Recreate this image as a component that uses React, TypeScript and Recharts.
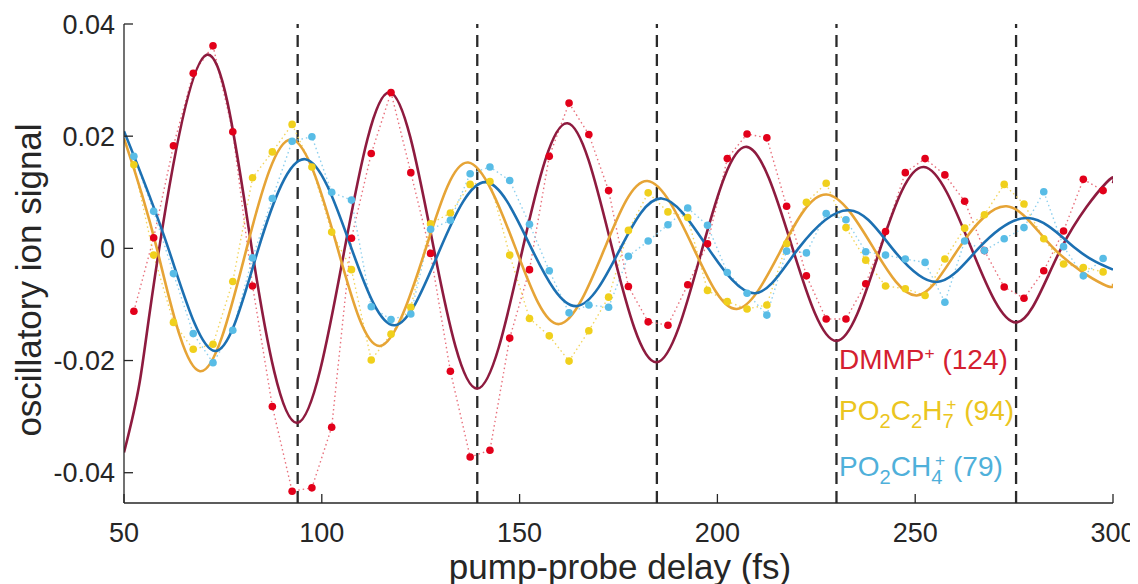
import React from "react"
import { ComposedChart, Line, XAxis, YAxis, ReferenceLine } from "recharts"

// pump-probe delays of the measured points (fs)
const sampleDelays = [
  52.5, 57.5, 62.5, 67.5, 72.5, 77.5, 82.5, 87.5, 92.5, 97.5,
  102.5, 107.5, 112.5, 117.5, 122.5, 127.5, 132.5, 137.5, 142.5, 147.5,
  152.5, 157.5, 162.5, 167.5, 172.5, 177.5, 182.5, 187.5, 192.5, 197.5,
  202.5, 207.5, 212.5, 217.5, 222.5, 227.5, 232.5, 237.5, 242.5, 247.5,
  252.5, 257.5, 262.5, 267.5, 272.5, 277.5, 282.5, 287.5, 292.5, 297.5,
]

// measured oscillatory signal, DMMP+ (124)
const dmmpSignal = [
  -0.0112, 0.0019, 0.0183, 0.0312, 0.0361, 0.0208, -0.0067, -0.0282, -0.0433, -0.0427,
  -0.0319, 0.0018, 0.0169, 0.0278, 0.0135, -0.0009, -0.0219, -0.0372, -0.036, -0.016,
  -0.0038, 0.0164, 0.0259, 0.0203, 0.0103, -0.0068, -0.0131, -0.0137, -0.0065, 0.0008,
  0.016, 0.0204, 0.0197, 0.0075, -0.0049, -0.0126, -0.0126, -0.0063, 0.003, 0.0135,
  0.016, 0.0131, 0.0084, -0.0004, -0.0069, -0.0089, -0.004, 0.0031, 0.0123, 0.0103,
]

// PO2C2H7+ (94)
const c2h7Signal = [
  0.0149, -0.0012, -0.0132, -0.018, -0.0171, -0.0059, 0.0126, 0.0172, 0.0221, 0.0145,
  0.0029, -0.0038, -0.0199, -0.0153, -0.0105, 0.0044, 0.0063, 0.0114, 0.0119, -0.0012,
  -0.0125, -0.0156, -0.0201, -0.0147, -0.0087, 0.0032, 0.0099, 0.0065, 0.0055, -0.0075,
  -0.0095, -0.0108, -0.0101, 0.0008, 0.0082, 0.0116, 0.0037, -0.0021, -0.0067, -0.0072,
  -0.0084, -0.0019, 0.0036, 0.006, 0.0114, 0.0079, 0.0017, -0.0028, -0.0034, -0.0042,
]

// PO2CH4+ (79)
const ch4Signal = [
  0.0164, 0.0066, -0.0045, -0.0152, -0.0204, -0.0146, -0.0017, 0.0089, 0.0191, 0.0199,
  0.01, 0.0086, -0.0104, -0.0127, -0.0117, 0.0034, 0.005, 0.0133, 0.0145, 0.0121,
  0.0043, -0.004, -0.0115, -0.0101, -0.0105, -0.0014, 0.0013, 0.0042, 0.0072, 0.0041,
  -0.0043, -0.008, -0.0119, -0.0005, -0.0008, 0.0062, 0.0051, -0.0006, -0.0012, -0.0019,
  -0.0025, -0.0096, 0.0013, -0.0004, 0.0017, 0.0037, 0.0101, 0.0003, -0.0049, -0.0018,
]

// fitted curves, read at their extrema and zero crossings
const dmmpFitDelays = [50, 54, 58.9, 70.9, 82.3, 93.9, 105.8, 117.2, 128.3, 139.4, 150.8, 162.1, 173.4, 184.7, 196.2, 207.4, 219, 230.2, 241.2, 252.2, 264.2, 275.7, 286.9, 298.3, 300]
const dmmpFitValues = [-0.0364, -0.0237, 0, 0.0345, 0, -0.0311, 0, 0.0278, 0, -0.025, 0, 0.0223, 0, -0.0203, 0, 0.0181, 0, -0.0165, 0, 0.0145, 0, -0.0132, 0, 0.0117, 0.0116]

const c2h7FitDelays = [50, 58.3, 69.2, 81, 92.4, 104, 114.7, 126.3, 137, 149, 160, 171.5, 182.3, 194, 204.9, 216.3, 227.6, 239.5, 250.4, 261, 273.1, 285, 297.5, 300]
const c2h7FitValues = [0.0196, 0, -0.0219, 0, 0.0194, 0, -0.0174, 0, 0.0153, 0, -0.0135, 0, 0.012, 0, -0.0108, 0, 0.0096, 0, -0.0084, 0, 0.0075, 0, -0.0064, -0.0063]

const ch4FitDelays = [50, 61.2, 73, 84, 95.8, 107.5, 118.5, 130, 141.5, 153, 164.4, 175.5, 185.9, 197.7, 209.5, 220.5, 233.3, 244.2, 255.4, 266, 278.6, 290.5, 300]
const ch4FitValues = [0.0209, 0, -0.0183, 0, 0.0159, 0, -0.0137, 0, 0.0118, 0, -0.0103, 0, 0.0089, 0, -0.008, 0, 0.0068, 0, -0.006, 0, 0.0054, 0, -0.0038]

const delayTicks = [50, 100, 150, 200, 250, 300]
const signalTicks = [-0.04, -0.02, 0, 0.02, 0.04]
const dashedDelays = [93.9, 139.3, 184.7, 230.1, 275.5]

const toPoints = (xs: number[], ys: number[]) => xs.map((t, i) => ({ t, v: ys[i] }))

const dmmpPoints = toPoints(sampleDelays, dmmpSignal)
const c2h7Points = toPoints(sampleDelays, c2h7Signal)
const ch4Points = toPoints(sampleDelays, ch4Signal)
const dmmpFit = toPoints(dmmpFitDelays, dmmpFitValues)
const c2h7Fit = toPoints(c2h7FitDelays, c2h7FitValues)
const ch4Fit = toPoints(ch4FitDelays, ch4FitValues)

const FONT = "'Liberation Sans', Arial, Helvetica, sans-serif"
const AXIS = "#262626"
const TICK_FONT = 27
const TICK_LEN = 9

function BottomTick({ x, y, payload }: any) {
  return (
    <g>
      <line x1={x} x2={x} y1={y} y2={y - TICK_LEN} stroke={AXIS} strokeWidth={1.3} />
      <text x={x} y={y + 39} textAnchor="middle" fontSize={TICK_FONT} fontFamily={FONT} fill={AXIS}>
        {payload.value}
      </text>
    </g>
  )
}

function LeftTick({ x, y, payload }: any) {
  return (
    <g>
      <line x1={x} x2={x + TICK_LEN} y1={y} y2={y} stroke={AXIS} strokeWidth={1.3} />
      <text x={x - 9} y={y + 9.5} textAnchor="end" fontSize={TICK_FONT} fontFamily={FONT} fill={AXIS}>
        {String(payload.value)}
      </text>
    </g>
  )
}

function TopTick({ x, y }: any) {
  return <line x1={x} x2={x} y1={y} y2={y + TICK_LEN} stroke={AXIS} strokeWidth={1.3} />
}

function RightTick({ x, y }: any) {
  return <line x1={x} x2={x - TICK_LEN} y1={y} y2={y} stroke={AXIS} strokeWidth={1.3} />
}

const sub: React.CSSProperties = { fontSize: "0.72em", position: "relative", top: "0.42em" }
const sup: React.CSSProperties = { fontSize: "0.62em", position: "relative", top: "-0.6em" }
const legendLine: React.CSSProperties = { position: "absolute", left: 831, fontSize: 28, lineHeight: "28px", whiteSpace: "nowrap" }

export default function App() {
  return (
    <div style={{ position: "relative", width: 1130, height: 576, fontFamily: FONT }}>
      <ComposedChart width={1130} height={576} margin={{ top: 16, right: 25, bottom: 0, left: 0 }} style={{ overflow: "visible" }}>
        <XAxis
          dataKey="t"
          type="number"
          domain={[50, 300]}
          ticks={delayTicks}
          allowDataOverflow
          height={81}
          tickSize={0}
          tickMargin={0}
          tick={<BottomTick />}
          axisLine={{ stroke: AXIS, strokeWidth: 1.3 }}
        />
        <XAxis
          xAxisId="top"
          orientation="top"
          dataKey="t"
          type="number"
          domain={[50, 300]}
          ticks={delayTicks}
          allowDataOverflow
          height={0}
          tickSize={0}
          tickMargin={0}
          tick={<TopTick />}
          axisLine={{ stroke: AXIS, strokeWidth: 1.3 }}
        />
        <YAxis
          type="number"
          domain={[-0.0454, 0.04]}
          ticks={signalTicks}
          allowDataOverflow
          width={116}
          tickSize={0}
          tickMargin={0}
          tick={<LeftTick />}
          axisLine={{ stroke: AXIS, strokeWidth: 1.3 }}
        />
        <YAxis
          yAxisId="right"
          orientation="right"
          type="number"
          domain={[-0.0454, 0.04]}
          ticks={signalTicks}
          allowDataOverflow
          width={0}
          tickSize={0}
          tickMargin={0}
          tick={<RightTick />}
          axisLine={{ stroke: AXIS, strokeWidth: 1.3 }}
        />

        {dashedDelays.map((d) => (
          <ReferenceLine key={d} x={d} stroke="#2a2a2a" strokeWidth={2.3} strokeDasharray="12 7" />
        ))}

        <Line data={dmmpPoints} dataKey="v" type="linear" stroke="#e8707c" strokeWidth={1.4} strokeDasharray="1.5 3"
          dot={{ r: 3.8, fill: "#e2001a", stroke: "none" }} activeDot={false} isAnimationActive={false} />
        <Line data={c2h7Points} dataKey="v" type="linear" stroke="#f2d560" strokeWidth={1.4} strokeDasharray="1.5 3"
          dot={{ r: 3.8, fill: "#f0d01c", stroke: "none" }} activeDot={false} isAnimationActive={false} />
        <Line data={ch4Points} dataKey="v" type="linear" stroke="#8fd0ee" strokeWidth={1.4} strokeDasharray="1.5 3"
          dot={{ r: 3.8, fill: "#58bce6", stroke: "none" }} activeDot={false} isAnimationActive={false} />

        <Line data={dmmpFit} dataKey="v" type="natural" stroke="#8e1b3f" strokeWidth={2.6} dot={false} activeDot={false} isAnimationActive={false} />
        <Line data={c2h7Fit} dataKey="v" type="natural" stroke="#e6a436" strokeWidth={2.6} dot={false} activeDot={false} isAnimationActive={false} />
        <Line data={ch4Fit} dataKey="v" type="natural" stroke="#1c70b2" strokeWidth={2.6} dot={false} activeDot={false} isAnimationActive={false} />
      </ComposedChart>

      <div style={{ position: "absolute", left: 21, top: 272, transform: "translate(-50%, -50%) rotate(-90deg)", whiteSpace: "nowrap", fontSize: 35, color: AXIS }}>
        oscillatory ion signal
      </div>
      <div style={{ position: "absolute", left: 612, top: 541, transform: "translateX(-50%)", whiteSpace: "nowrap", fontSize: 35, lineHeight: "35px", color: AXIS }}>
        pump-probe delay (fs)
      </div>

      <div style={{ ...legendLine, top: 338, color: "#d42030" }}>
        DMMP<span style={sup}>+</span> (124)
      </div>
      <div style={{ ...legendLine, top: 389, color: "#ebc520" }}>
        PO<span style={sub}>2</span>C<span style={sub}>2</span>H<span style={sub}>7</span>
        <span style={{ ...sup, marginLeft: "-0.42em" }}>+</span> (94)
      </div>
      <div style={{ ...legendLine, top: 445, color: "#4fb0da" }}>
        PO<span style={sub}>2</span>CH<span style={sub}>4</span>
        <span style={{ ...sup, marginLeft: "-0.42em" }}>+</span> (79)
      </div>
    </div>
  )
}
